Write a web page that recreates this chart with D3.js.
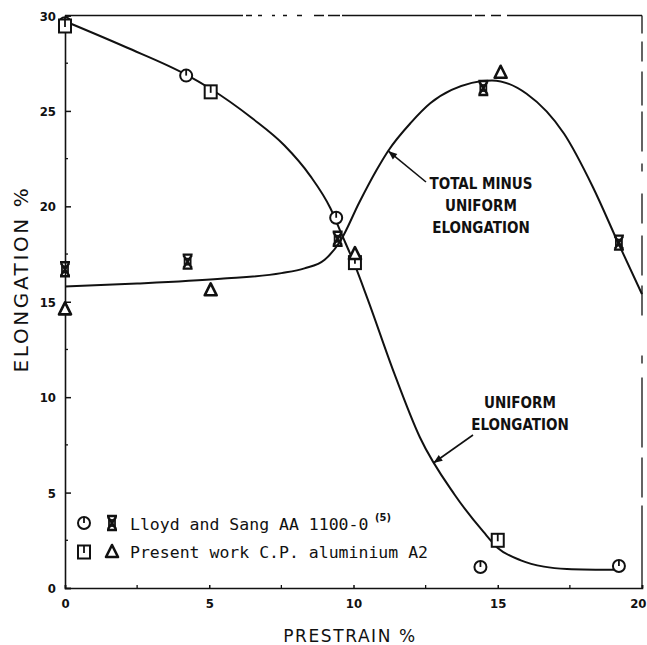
<!DOCTYPE html>
<html>
<head>
<meta charset="utf-8">
<script src="https://cdn.jsdelivr.net/npm/d3@7"></script>
<style>
  html, body { margin: 0; padding: 0; background: #fff; }
  svg { display: block; }
  .tick text { font-family: "DejaVu Sans Condensed", "Liberation Sans Narrow", sans-serif; font-weight: bold; font-size: 13px; fill: #111; }
</style>
</head>
<body>
<svg id="chart" width="647" height="645"></svg>
<script>
// Prestrain (%) vs elongation (%) for aluminium
const xTicks = [0, 5, 10, 15, 20];
const yTicks = [0, 5, 10, 15, 20, 25, 30];

// Lloyd and Sang AA 1100-0: uniform elongation (circles)
const lloydUniform = [[0, 29.6], [4.2, 26.85], [9.4, 19.4], [14.4, 1.1], [19.2, 1.15]];
// Lloyd and Sang AA 1100-0: total minus uniform (crossed symbols)
const lloydPost = [[0, 16.7], [4.25, 17.1], [9.45, 18.3], [14.5, 26.2], [19.2, 18.1]];
// Present work C.P. aluminium A2: uniform elongation (squares)
const presentUniform = [[0, 29.45], [5.05, 26.0], [10.05, 17.05], [15.0, 2.5]];
// Present work C.P. aluminium A2: total minus uniform (triangles)
const presentPost = [[0, 14.6], [5.05, 15.6], [10.05, 17.5], [15.1, 27.0]];

// Hand-fitted trend curves
const uniformCurve = [[0, 29.7], [2.1, 28.35], [4.2, 26.9], [5.0, 26.2], [6.5, 24.6], [7.6, 23.2],
  [8.5, 21.6], [9.2, 19.9], [9.6, 18.5], [10.0, 17.1], [10.5, 15.1], [11.4, 11.3], [12.3, 7.9],
  [13.5, 4.9], [14.5, 2.95], [15.0, 2.1], [15.8, 1.45], [16.6, 1.12], [17.4, 1.0], [19.2, 0.95]];
const postCurve = [[0, 15.8], [2.5, 15.95], [5.4, 16.2], [7.5, 16.5], [8.3, 16.75], [9.0, 17.2],
  [9.55, 18.2], [10.2, 20.2], [10.8, 21.9], [11.2, 22.9], [12.0, 24.4], [12.66, 25.4], [13.4, 26.1],
  [14.8, 26.6], [16.0, 25.9], [17.3, 23.8], [18.3, 21.0], [19.17, 18.1], [20, 15.4]];

const svg = d3.select("#chart");
const x = d3.scaleLinear().domain([0, 20]).range([65, 642]);
const y = d3.scaleLinear().domain([0, 30]).range([588, 15.5]);

// frame: top and right edges are broken in places
const frame = svg.append("g").attr("stroke", "#111").attr("fill", "none");
frame.append("line").attr("x1", x(0)).attr("x2", x(20)).attr("y1", y(30)).attr("y2", y(30))
  .attr("stroke-width", 1.3).attr("stroke-dasharray", "178 3 6 6 4 10 3 8 4 10 5 12 10 4 12 2 130 3 10 6 10 6 150");
frame.append("line").attr("x1", x(20)).attr("x2", x(20)).attr("y1", y(30)).attr("y2", y(0))
  .attr("stroke-width", 1.3).attr("stroke-dasharray", "18 8 20 10 34 6 40 12 8 22 30 12 40 10 30 40 8 14 70 10 40 8 100");

// axes
const xAxis = d3.axisBottom(x).tickValues(xTicks).tickSize(-3).tickPadding(12).tickFormat(d3.format("d"));
const yAxis = d3.axisLeft(y).tickValues(yTicks).tickSize(-6).tickPadding(9).tickFormat(d3.format("d"));
const gx = svg.append("g").attr("transform", `translate(0,${y(0)})`).call(xAxis);
const gy = svg.append("g").attr("transform", `translate(${x(0)},0)`).call(yAxis);
[gx, gy].forEach(g => {
  g.select(".domain").attr("stroke", "#111").attr("stroke-width", 1.6);
  g.selectAll(".tick line").attr("stroke", "#111").attr("stroke-width", 1.5);
});
gx.selectAll(".tick text").attr("dy", "0.6em");
gx.selectAll(".tick text").filter(d => d === 20).attr("text-anchor", "end").attr("dx", 4);
gy.selectAll(".tick text").attr("dy", "0.35em");

// minor ticks
const minor = d3.range(2.5, 20, 5);
svg.append("g").selectAll("line").data(minor).join("line")
  .attr("x1", d => x(d)).attr("x2", d => x(d)).attr("y1", y(0)).attr("y2", y(0) - 3)
  .attr("stroke", "#111").attr("stroke-width", 1.3);
svg.append("g").selectAll("line").data(d3.range(2.5, 30, 5)).join("line")
  .attr("x1", x(0)).attr("x2", x(0) + 3).attr("y1", d => y(d)).attr("y2", d => y(d))
  .attr("stroke", "#111").attr("stroke-width", 1.3);

// axis titles
svg.append("text").attr("x", 350).attr("y", 642).attr("text-anchor", "middle")
  .attr("font-family", "DejaVu Sans, sans-serif").attr("font-size", 17).attr("letter-spacing", 1.6)
  .attr("fill", "#111").text("PRESTRAIN %");
svg.append("text").attr("transform", "translate(28,279) rotate(-90)").attr("text-anchor", "middle")
  .attr("font-family", "DejaVu Sans, sans-serif").attr("font-size", 20).attr("letter-spacing", 2.6)
  .attr("fill", "#111").text("ELONGATION %");

// trend curves
const line = d3.line().x(d => x(d[0])).y(d => y(d[1])).curve(d3.curveMonotoneX);
svg.append("path").datum(uniformCurve).attr("d", line).attr("fill", "none").attr("stroke", "#111").attr("stroke-width", 2);
svg.append("path").datum(postCurve).attr("d", line).attr("fill", "none").attr("stroke", "#111").attr("stroke-width", 2);

// marker shapes
function circleMark(g) {
  g.append("circle").attr("r", 6).attr("fill", "#fff").attr("stroke", "#111").attr("stroke-width", 2);
  g.append("line").attr("x1", 0).attr("x2", 0).attr("y1", -6).attr("y2", 0).attr("stroke", "#111").attr("stroke-width", 1.8);
}
function squareMark(g) {
  g.append("rect").attr("x", -6).attr("y", -6.5).attr("width", 12).attr("height", 13)
    .attr("fill", "#fff").attr("stroke", "#111").attr("stroke-width", 2);
  g.append("line").attr("x1", 0).attr("x2", 0).attr("y1", -6.5).attr("y2", 1).attr("stroke", "#111").attr("stroke-width", 1.8);
}
function crossMark(g) {
  g.append("path").attr("d", "M-5,-7H5M-5,7H5M-4,-6L4,6M4,-6L-4,6").attr("fill", "none")
    .attr("stroke", "#111").attr("stroke-width", 2.4);
  g.append("rect").attr("x", -3).attr("y", -3).attr("width", 6).attr("height", 6).attr("fill", "none")
    .attr("stroke", "#111").attr("stroke-width", 1.8);
}
function triMark(g) {
  g.append("path").attr("d", "M0,-7L6,5H-6Z").attr("fill", "#fff").attr("stroke", "#111")
    .attr("stroke-width", 2.6).attr("stroke-linejoin", "round");
}

function plotSet(data, shape) {
  svg.append("g").selectAll("g").data(data).join("g")
    .attr("transform", d => `translate(${x(d[0])},${y(d[1])})`)
    .each(function () { shape(d3.select(this)); });
}
plotSet(lloydUniform, circleMark);
plotSet(presentUniform, squareMark);
plotSet(lloydPost, crossMark);
plotSet(presentPost, triMark);

// curve annotations
const labelFont = "DejaVu Sans Condensed, Liberation Sans Narrow, sans-serif";
function label(lines, cx, y0, dy) {
  const t = svg.append("text").attr("text-anchor", "middle").attr("font-family", labelFont)
    .attr("font-size", 15).attr("font-weight", "bold").attr("fill", "#111");
  lines.forEach((s, i) => t.append("tspan").attr("x", cx).attr("y", y0 + i * dy).text(s));
}
label(["TOTAL MINUS", "UNIFORM", "ELONGATION"], 481, 189, 22);
label(["UNIFORM", "ELONGATION"], 520, 408, 22);

function arrow(x1, y1, tx, ty) {
  svg.append("line").attr("x1", x1).attr("y1", y1).attr("x2", tx).attr("y2", ty)
    .attr("stroke", "#111").attr("stroke-width", 1.6);
  const a = Math.atan2(ty - y1, tx - x1);
  const L = 9, W = 3.5;
  const bx = tx - L * Math.cos(a), by = ty - L * Math.sin(a);
  svg.append("path")
    .attr("d", `M${tx},${ty}L${bx + W * Math.sin(a)},${by - W * Math.cos(a)}L${bx - W * Math.sin(a)},${by + W * Math.cos(a)}Z`)
    .attr("fill", "#111");
}
arrow(426, 182, x(11.2), y(22.9));
arrow(473, 435, x(12.77), y(6.55));

// legend
const legendFont = "DejaVu Sans Mono, Liberation Mono, monospace";
const lg = svg.append("g");
circleMark(lg.append("g").attr("transform", "translate(84,523)"));
crossMark(lg.append("g").attr("transform", "translate(112,523)"));
squareMark(lg.append("g").attr("transform", "translate(84,552)"));
triMark(lg.append("g").attr("transform", "translate(112,552)"));
lg.append("text").attr("x", 130).attr("y", 530).attr("font-family", legendFont)
  .attr("font-size", 16.5).attr("fill", "#111").text("Lloyd and Sang AA 1100-0");
lg.append("text").attr("x", 375).attr("y", 521).attr("font-family", labelFont).attr("font-weight", "bold")
  .attr("font-size", 11).attr("fill", "#111").text("(5)");
lg.append("text").attr("x", 130).attr("y", 558).attr("font-family", legendFont)
  .attr("font-size", 16.5).attr("fill", "#111").text("Present work C.P. aluminium A2");
</script>
</body>
</html>
